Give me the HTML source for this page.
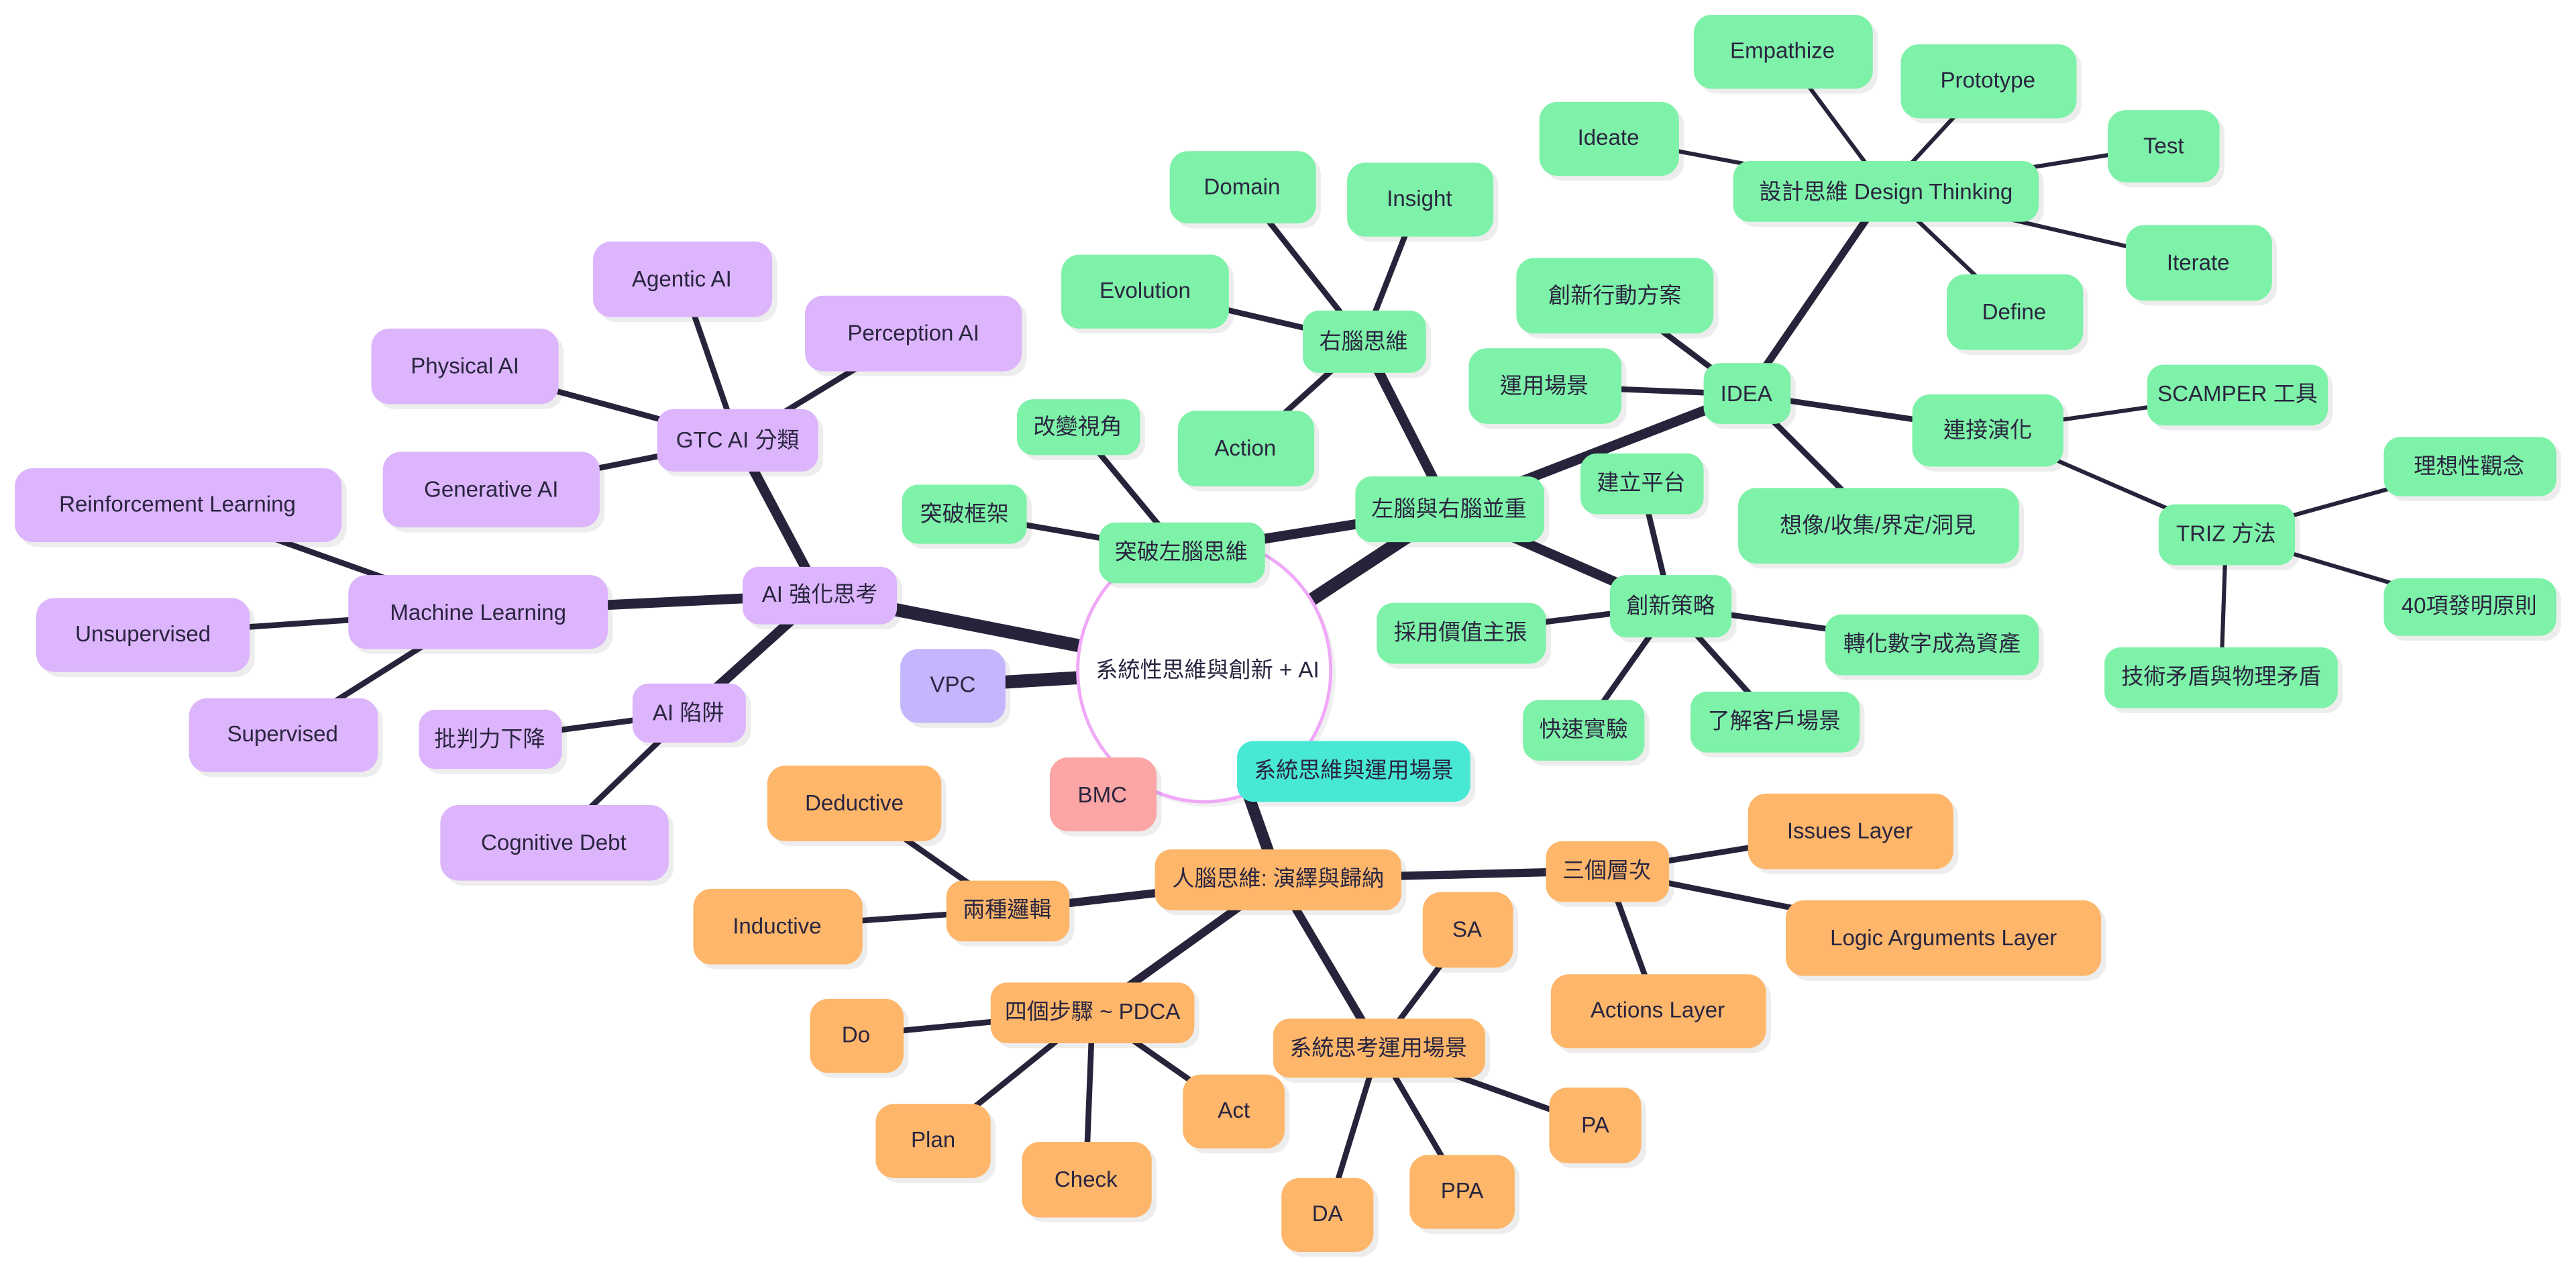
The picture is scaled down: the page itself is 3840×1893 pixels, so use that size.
<!DOCTYPE html>
<html><head><meta charset="utf-8"><style>
html,body{margin:0;padding:0;background:#fff;width:3840px;height:1893px;overflow:hidden}
svg{display:block}
text{font-family:"Liberation Sans","Noto Sans CJK TC",sans-serif;font-size:13.5px;fill:#2a2540;text-anchor:middle;dominant-baseline:central}
.g{fill:#7ef2a8}.p{fill:#dcb5fc}.o{fill:#fdb66a}.s{fill:#000;opacity:.07}
line{stroke:#27233a;stroke-linecap:butt}
</style></head><body>
<svg width="3840" height="1893" viewBox="0 0 1568 773" xmlns="http://www.w3.org/2000/svg">
<g>
<!-- root edges -->
<line x1="733" y1="408" x2="580" y2="417" stroke-width="8"/>
<line x1="733" y1="408" x2="499" y2="362" stroke-width="8"/>
<line x1="733" y1="408" x2="882" y2="310" stroke-width="8"/>
<line x1="733" y1="408" x2="778" y2="535" stroke-width="7"/>
<!-- left/right brain -->
<line x1="882" y1="310" x2="830" y2="208" stroke-width="6"/>
<line x1="882" y1="310" x2="719" y2="336" stroke-width="6"/>
<line x1="882" y1="310" x2="1063" y2="240" stroke-width="6"/>
<line x1="882" y1="310" x2="1017" y2="369" stroke-width="6"/>
<line x1="830" y1="208" x2="756" y2="114" stroke-width="3.5"/>
<line x1="830" y1="208" x2="864" y2="121" stroke-width="3.5"/>
<line x1="830" y1="208" x2="697" y2="177" stroke-width="3.5"/>
<line x1="830" y1="208" x2="758" y2="273" stroke-width="3.5"/>
<line x1="719" y1="336" x2="656" y2="260" stroke-width="3.5"/>
<line x1="719" y1="336" x2="587" y2="313" stroke-width="3.5"/>
<line x1="1063" y1="240" x2="1148" y2="116" stroke-width="4.5"/>
<line x1="1063" y1="240" x2="983" y2="180" stroke-width="3.5"/>
<line x1="1063" y1="240" x2="940" y2="235" stroke-width="3.5"/>
<line x1="1063" y1="240" x2="1210" y2="262" stroke-width="3.5"/>
<line x1="1063" y1="240" x2="1143" y2="320" stroke-width="3.5"/>
<line x1="1148" y1="116" x2="1085" y2="31" stroke-width="2.5"/>
<line x1="1148" y1="116" x2="1210" y2="49" stroke-width="2.5"/>
<line x1="1148" y1="116" x2="979" y2="84" stroke-width="2.5"/>
<line x1="1148" y1="116" x2="1317" y2="89" stroke-width="2.5"/>
<line x1="1148" y1="116" x2="1338" y2="160" stroke-width="2.5"/>
<line x1="1148" y1="116" x2="1226" y2="190" stroke-width="2.5"/>
<line x1="1210" y1="262" x2="1362" y2="240" stroke-width="2.5"/>
<line x1="1210" y1="262" x2="1355" y2="325" stroke-width="2.5"/>
<line x1="1355" y1="325" x2="1503" y2="284" stroke-width="2.5"/>
<line x1="1355" y1="325" x2="1503" y2="369" stroke-width="2.5"/>
<line x1="1355" y1="325" x2="1352" y2="412" stroke-width="2.5"/>
<line x1="1017" y1="369" x2="999" y2="294" stroke-width="3.5"/>
<line x1="1017" y1="369" x2="889" y2="385" stroke-width="3.5"/>
<line x1="1017" y1="369" x2="1176" y2="392" stroke-width="3.5"/>
<line x1="1017" y1="369" x2="964" y2="444" stroke-width="3.5"/>
<line x1="1017" y1="369" x2="1080" y2="439" stroke-width="3.5"/>
<!-- AI -->
<line x1="499" y1="362" x2="449" y2="268" stroke-width="6"/>
<line x1="499" y1="362" x2="291" y2="372" stroke-width="6"/>
<line x1="499" y1="362" x2="419" y2="434" stroke-width="6"/>
<line x1="449" y1="268" x2="415" y2="170" stroke-width="3.5"/>
<line x1="449" y1="268" x2="556" y2="203" stroke-width="3.5"/>
<line x1="449" y1="268" x2="283" y2="223" stroke-width="3.5"/>
<line x1="449" y1="268" x2="299" y2="298" stroke-width="3.5"/>
<line x1="291" y1="372" x2="108" y2="307" stroke-width="3.5"/>
<line x1="291" y1="372" x2="87" y2="386" stroke-width="3.5"/>
<line x1="291" y1="372" x2="172" y2="447" stroke-width="3.5"/>
<line x1="419" y1="434" x2="298" y2="450" stroke-width="3.5"/>
<line x1="419" y1="434" x2="337" y2="513" stroke-width="3.5"/>
<!-- human -->
<line x1="778" y1="535" x2="613" y2="554" stroke-width="5"/>
<line x1="778" y1="535" x2="978" y2="530" stroke-width="5"/>
<line x1="778" y1="535" x2="665" y2="616" stroke-width="5"/>
<line x1="778" y1="535" x2="839" y2="638" stroke-width="5"/>
<line x1="613" y1="554" x2="520" y2="489" stroke-width="3.5"/>
<line x1="613" y1="554" x2="473" y2="564" stroke-width="3.5"/>
<line x1="978" y1="530" x2="1126" y2="506" stroke-width="3.5"/>
<line x1="978" y1="530" x2="1183" y2="571" stroke-width="3.5"/>
<line x1="978" y1="530" x2="1009" y2="615" stroke-width="3.5"/>
<line x1="665" y1="616" x2="521" y2="630" stroke-width="3.5"/>
<line x1="665" y1="616" x2="568" y2="694" stroke-width="3.5"/>
<line x1="665" y1="616" x2="661" y2="718" stroke-width="3.5"/>
<line x1="665" y1="616" x2="751" y2="676" stroke-width="3.5"/>
<line x1="839" y1="638" x2="893" y2="566" stroke-width="3.5"/>
<line x1="839" y1="638" x2="971" y2="685" stroke-width="3.5"/>
<line x1="839" y1="638" x2="890" y2="725" stroke-width="3.5"/>
<line x1="839" y1="638" x2="808" y2="739" stroke-width="3.5"/>
</g>

<!-- root -->
<ellipse cx="736" cy="411" rx="77" ry="80" fill="#000" opacity=".06"/>
<ellipse cx="733" cy="408" rx="77" ry="80" fill="#fff" stroke="#f0a8f8" stroke-width="2"/>
<text x="735" y="408">系統性思維與創新 + AI</text>

<!-- special -->
<rect class="s" x="551" y="398" width="64" height="45" rx="11"/><rect x="548" y="395" width="64" height="45" rx="11" fill="#c4b5fd"/><text x="580" y="417">VPC</text>
<rect class="s" x="642" y="464" width="65" height="45" rx="11"/><rect x="639" y="461" width="65" height="45" rx="11" fill="#fca5a5"/><text x="671" y="484">BMC</text>
<rect class="s" x="756" y="454" width="142" height="37" rx="10"/><rect x="753" y="451" width="142" height="37" rx="10" fill="#48e9d4"/><text x="824" y="469">系統思維與運用場景</text>

<g id="nodes">
<!-- green -->
<rect class="s" x="828" y="293" width="115" height="40" rx="10"/><rect class="g" x="825" y="290" width="115" height="40" rx="10"/><text x="882" y="310">左腦與右腦並重</text>
<rect class="s" x="796" y="192" width="75" height="38" rx="10"/><rect class="g" x="793" y="189" width="75" height="38" rx="10"/><text x="830" y="208">右腦思維</text>
<rect class="s" x="715" y="95" width="89" height="44" rx="11"/><rect class="g" x="712" y="92" width="89" height="44" rx="11"/><text x="756" y="114">Domain</text>
<rect class="s" x="823" y="102" width="89" height="45" rx="11"/><rect class="g" x="820" y="99" width="89" height="45" rx="11"/><text x="864" y="121">Insight</text>
<rect class="s" x="649" y="158" width="102" height="45" rx="11"/><rect class="g" x="646" y="155" width="102" height="45" rx="11"/><text x="697" y="177">Evolution</text>
<rect class="s" x="720" y="253" width="83" height="46" rx="11"/><rect class="g" x="717" y="250" width="83" height="46" rx="11"/><text x="758" y="273">Action</text>
<rect class="s" x="672" y="321" width="101" height="37" rx="10"/><rect class="g" x="669" y="318" width="101" height="37" rx="10"/><text x="719" y="336">突破左腦思維</text>
<rect class="s" x="622" y="246" width="75" height="34" rx="10"/><rect class="g" x="619" y="243" width="75" height="34" rx="10"/><text x="656" y="260">改變視角</text>
<rect class="s" x="552" y="298" width="76" height="36" rx="10"/><rect class="g" x="549" y="295" width="76" height="36" rx="10"/><text x="587" y="313">突破框架</text>
<rect class="s" x="1040" y="224" width="53" height="37" rx="10"/><rect class="g" x="1037" y="221" width="53" height="37" rx="10"/><text x="1063" y="240">IDEA</text>
<rect class="s" x="1058" y="101" width="186" height="37" rx="10"/><rect class="g" x="1055" y="98" width="186" height="37" rx="10"/><text x="1148" y="117">設計思維 Design Thinking</text>
<rect class="s" x="1034" y="12" width="109" height="45" rx="11"/><rect class="g" x="1031" y="9" width="109" height="45" rx="11"/><text x="1085" y="31">Empathize</text>
<rect class="s" x="1160" y="30" width="107" height="45" rx="11"/><rect class="g" x="1157" y="27" width="107" height="45" rx="11"/><text x="1210" y="49">Prototype</text>
<rect class="s" x="940" y="65" width="85" height="45" rx="11"/><rect class="g" x="937" y="62" width="85" height="45" rx="11"/><text x="979" y="84">Ideate</text>
<rect class="s" x="1286" y="70" width="68" height="44" rx="11"/><rect class="g" x="1283" y="67" width="68" height="44" rx="11"/><text x="1317" y="89">Test</text>
<rect class="s" x="1297" y="140" width="89" height="46" rx="11"/><rect class="g" x="1294" y="137" width="89" height="46" rx="11"/><text x="1338" y="160">Iterate</text>
<rect class="s" x="1188" y="170" width="83" height="46" rx="11"/><rect class="g" x="1185" y="167" width="83" height="46" rx="11"/><text x="1226" y="190">Define</text>
<rect class="s" x="926" y="160" width="120" height="46" rx="11"/><rect class="g" x="923" y="157" width="120" height="46" rx="11"/><text x="983" y="180">創新行動方案</text>
<rect class="s" x="897" y="215" width="93" height="46" rx="11"/><rect class="g" x="894" y="212" width="93" height="46" rx="11"/><text x="940" y="235">運用場景</text>
<rect class="s" x="1167" y="243" width="92" height="44" rx="11"/><rect class="g" x="1164" y="240" width="92" height="44" rx="11"/><text x="1210" y="262">連接演化</text>
<rect class="s" x="1310" y="225" width="110" height="37" rx="10"/><rect class="g" x="1307" y="222" width="110" height="37" rx="10"/><text x="1362" y="240">SCAMPER 工具</text>
<rect class="s" x="1317" y="310" width="83" height="37" rx="10"/><rect class="g" x="1314" y="307" width="83" height="37" rx="10"/><text x="1355" y="325">TRIZ 方法</text>
<rect class="s" x="1454" y="269" width="105" height="36" rx="10"/><rect class="g" x="1451" y="266" width="105" height="36" rx="10"/><text x="1503" y="284">理想性觀念</text>
<rect class="s" x="1454" y="355" width="105" height="35" rx="10"/><rect class="g" x="1451" y="352" width="105" height="35" rx="10"/><text x="1503" y="369">40項發明原則</text>
<rect class="s" x="1284" y="397" width="142" height="37" rx="10"/><rect class="g" x="1281" y="394" width="142" height="37" rx="10"/><text x="1352" y="412">技術矛盾與物理矛盾</text>
<rect class="s" x="1061" y="300" width="171" height="46" rx="11"/><rect class="g" x="1058" y="297" width="171" height="46" rx="11"/><text x="1143" y="320">想像/收集/界定/洞見</text>
<rect class="s" x="983" y="353" width="74" height="38" rx="10"/><rect class="g" x="980" y="350" width="74" height="38" rx="10"/><text x="1017" y="369">創新策略</text>
<rect class="s" x="965" y="279" width="75" height="37" rx="10"/><rect class="g" x="962" y="276" width="75" height="37" rx="10"/><text x="999" y="294">建立平台</text>
<rect class="s" x="841" y="370" width="103" height="37" rx="10"/><rect class="g" x="838" y="367" width="103" height="37" rx="10"/><text x="889" y="385">採用價值主張</text>
<rect class="s" x="1114" y="377" width="130" height="37" rx="10"/><rect class="g" x="1111" y="374" width="130" height="37" rx="10"/><text x="1176" y="392">轉化數字成為資產</text>
<rect class="s" x="930" y="429" width="74" height="37" rx="10"/><rect class="g" x="927" y="426" width="74" height="37" rx="10"/><text x="964" y="444">快速實驗</text>
<rect class="s" x="1032" y="424" width="103" height="37" rx="10"/><rect class="g" x="1029" y="421" width="103" height="37" rx="10"/><text x="1080" y="439">了解客戶場景</text>

<!-- purple -->
<rect class="s" x="455" y="348" width="94" height="35" rx="10"/><rect class="p" x="452" y="345" width="94" height="35" rx="10"/><text x="499" y="362">AI 強化思考</text>
<rect class="s" x="403" y="252" width="98" height="38" rx="10"/><rect class="p" x="400" y="249" width="98" height="38" rx="10"/><text x="449" y="268">GTC AI 分類</text>
<rect class="s" x="364" y="150" width="109" height="46" rx="11"/><rect class="p" x="361" y="147" width="109" height="46" rx="11"/><text x="415" y="170">Agentic AI</text>
<rect class="s" x="493" y="183" width="132" height="46" rx="11"/><rect class="p" x="490" y="180" width="132" height="46" rx="11"/><text x="556" y="203">Perception AI</text>
<rect class="s" x="229" y="203" width="114" height="46" rx="11"/><rect class="p" x="226" y="200" width="114" height="46" rx="11"/><text x="283" y="223">Physical AI</text>
<rect class="s" x="236" y="278" width="132" height="46" rx="11"/><rect class="p" x="233" y="275" width="132" height="46" rx="11"/><text x="299" y="298">Generative AI</text>
<rect class="s" x="215" y="353" width="158" height="45" rx="11"/><rect class="p" x="212" y="350" width="158" height="45" rx="11"/><text x="291" y="373">Machine Learning</text>
<rect class="s" x="12" y="288" width="199" height="45" rx="11"/><rect class="p" x="9" y="285" width="199" height="45" rx="11"/><text x="108" y="307">Reinforcement Learning</text>
<rect class="s" x="25" y="367" width="130" height="45" rx="11"/><rect class="p" x="22" y="364" width="130" height="45" rx="11"/><text x="87" y="386">Unsupervised</text>
<rect class="s" x="118" y="428" width="115" height="45" rx="11"/><rect class="p" x="115" y="425" width="115" height="45" rx="11"/><text x="172" y="447">Supervised</text>
<rect class="s" x="388" y="419" width="69" height="36" rx="10"/><rect class="p" x="385" y="416" width="69" height="36" rx="10"/><text x="419" y="434">AI 陷阱</text>
<rect class="s" x="258" y="435" width="87" height="36" rx="10"/><rect class="p" x="255" y="432" width="87" height="36" rx="10"/><text x="298" y="450">批判力下降</text>
<rect class="s" x="271" y="493" width="139" height="46" rx="11"/><rect class="p" x="268" y="490" width="139" height="46" rx="11"/><text x="337" y="513">Cognitive Debt</text>

<!-- orange -->
<rect class="s" x="706" y="520" width="150" height="37" rx="10"/><rect class="o" x="703" y="517" width="150" height="37" rx="10"/><text x="778" y="535">人腦思維: 演繹與歸納</text>
<rect class="s" x="579" y="539" width="75" height="37" rx="10"/><rect class="o" x="576" y="536" width="75" height="37" rx="10"/><text x="613" y="554">兩種邏輯</text>
<rect class="s" x="470" y="469" width="106" height="46" rx="11"/><rect class="o" x="467" y="466" width="106" height="46" rx="11"/><text x="520" y="489">Deductive</text>
<rect class="s" x="425" y="544" width="103" height="46" rx="11"/><rect class="o" x="422" y="541" width="103" height="46" rx="11"/><text x="473" y="564">Inductive</text>
<rect class="s" x="944" y="515" width="75" height="37" rx="10"/><rect class="o" x="941" y="512" width="75" height="37" rx="10"/><text x="978" y="530">三個層次</text>
<rect class="s" x="1067" y="486" width="125" height="46" rx="11"/><rect class="o" x="1064" y="483" width="125" height="46" rx="11"/><text x="1126" y="506">Issues Layer</text>
<rect class="s" x="1090" y="551" width="192" height="46" rx="11"/><rect class="o" x="1087" y="548" width="192" height="46" rx="11"/><text x="1183" y="571">Logic Arguments Layer</text>
<rect class="s" x="947" y="596" width="131" height="45" rx="11"/><rect class="o" x="944" y="593" width="131" height="45" rx="11"/><text x="1009" y="615">Actions Layer</text>
<rect class="s" x="606" y="601" width="124" height="37" rx="10"/><rect class="o" x="603" y="598" width="124" height="37" rx="10"/><text x="665" y="616">四個步驟 ~ PDCA</text>
<rect class="s" x="496" y="611" width="57" height="45" rx="11"/><rect class="o" x="493" y="608" width="57" height="45" rx="11"/><text x="521" y="630">Do</text>
<rect class="s" x="536" y="675" width="70" height="45" rx="11"/><rect class="o" x="533" y="672" width="70" height="45" rx="11"/><text x="568" y="694">Plan</text>
<rect class="s" x="625" y="698" width="79" height="46" rx="11"/><rect class="o" x="622" y="695" width="79" height="46" rx="11"/><text x="661" y="718">Check</text>
<rect class="s" x="723" y="657" width="62" height="45" rx="11"/><rect class="o" x="720" y="654" width="62" height="45" rx="11"/><text x="751" y="676">Act</text>
<rect class="s" x="778" y="623" width="129" height="36" rx="10"/><rect class="o" x="775" y="620" width="129" height="36" rx="10"/><text x="839" y="638">系統思考運用場景</text>
<rect class="s" x="869" y="546" width="55" height="46" rx="11"/><rect class="o" x="866" y="543" width="55" height="46" rx="11"/><text x="893" y="566">SA</text>
<rect class="s" x="946" y="665" width="56" height="46" rx="11"/><rect class="o" x="943" y="662" width="56" height="46" rx="11"/><text x="971" y="685">PA</text>
<rect class="s" x="861" y="706" width="64" height="45" rx="11"/><rect class="o" x="858" y="703" width="64" height="45" rx="11"/><text x="890" y="725">PPA</text>
<rect class="s" x="783" y="720" width="56" height="45" rx="11"/><rect class="o" x="780" y="717" width="56" height="45" rx="11"/><text x="808" y="739">DA</text>
</g>
</svg>
</body></html>
